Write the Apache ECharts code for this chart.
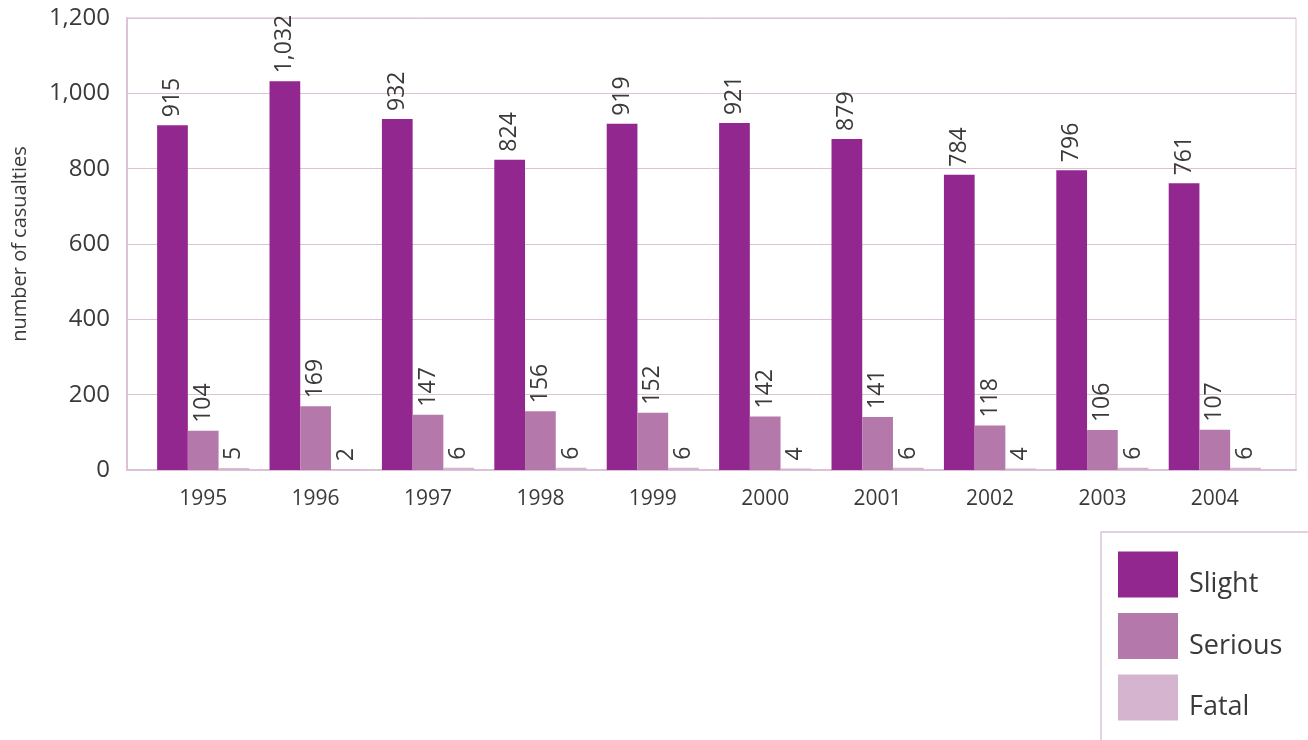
<!DOCTYPE html>
<html>
<head>
<meta charset="utf-8">
<script src="https://cdn.jsdelivr.net/npm/echarts@6/dist/echarts.min.js"></script>
<style>
  html, body { margin: 0; padding: 0; background: #ffffff; }
  #chart { width: 1308px; height: 740px; }
</style>
</head>
<body>
<div id="chart"></div>
<script>
// Road casualties by severity, 1995–2004
const years = ['1995', '1996', '1997', '1998', '1999', '2000', '2001', '2002', '2003', '2004'];
const slight = [915, 1032, 932, 824, 919, 921, 879, 784, 796, 761];
const serious = [104, 169, 147, 156, 152, 142, 141, 118, 106, 107];
const fatal = [5, 2, 6, 6, 6, 4, 6, 4, 6, 6];
const yTicks = [0, 200, 400, 600, 800, 1000, 1200];

const FONT = '"Open Sans", "Noto Sans", sans-serif';
const TEXT = '#3a3a3a';
const LINE = '#dcc2d8';
const Y_MIN = yTicks[0];
const Y_MAX = yTicks[yTicks.length - 1];

const fmt = v => Number(v).toLocaleString('en-US');

const barLabel = {
  show: true,
  position: 'top',
  rotate: 90,
  align: 'left',
  verticalAlign: 'middle',
  distance: 8,
  fontFamily: FONT,
  fontSize: 23,
  color: TEXT,
  formatter: p => fmt(p.value)
};

function barSeries(name, data, color) {
  return {
    name: name,
    type: 'bar',
    xAxisIndex: 1,
    yAxisIndex: 1,
    data: data,
    barGap: 0,
    barCategoryGap: '18%',
    itemStyle: { color: color },
    label: barLabel,
    emphasis: { disabled: true }
  };
}

const chart = echarts.init(document.getElementById('chart'), null, { renderer: 'canvas' });
chart.setOption({
  animation: false,
  backgroundColor: '#ffffff',
  // outer frame with the value scale; inner grid holds the bar categories
  grid: [
    {
      left: 127, right: 12, top: 18, bottom: 270,
      outerBoundsMode: 'none',
      show: true, borderColor: LINE, borderWidth: 1
    },
    {
      left: 147, right: 37, top: 18, bottom: 270,
      outerBoundsMode: 'none'
    }
  ],
  xAxis: [
    {
      gridIndex: 0,
      type: 'category',
      data: years,
      axisLine: { show: true, lineStyle: { color: LINE, width: 2 } },
      axisTick: { show: false },
      axisLabel: { show: false }
    },
    {
      gridIndex: 1,
      type: 'category',
      data: years,
      axisLine: { show: false },
      axisTick: { show: false },
      axisLabel: { fontFamily: FONT, fontSize: 21, color: TEXT, margin: 19 }
    }
  ],
  yAxis: [
    {
      gridIndex: 0,
      type: 'value',
      min: Y_MIN,
      max: Y_MAX,
      interval: 200,
      name: 'number of casualties',
      nameLocation: 'middle',
      nameGap: 97,
      nameTextStyle: { fontFamily: FONT, fontSize: 20, color: TEXT },
      axisLine: { show: true, lineStyle: { color: LINE, width: 2 } },
      axisTick: { show: false },
      splitLine: { lineStyle: { color: LINE, width: 1 } },
      axisLabel: {
        fontFamily: FONT, fontSize: 24, color: TEXT, margin: 17,
        formatter: v => fmt(v)
      }
    },
    {
      gridIndex: 1,
      type: 'value',
      min: Y_MIN,
      max: Y_MAX,
      interval: 200,
      show: false,
      splitLine: { show: false }
    }
  ],
  legend: {
    orient: 'vertical',
    left: 1118,
    top: 551,
    padding: 0,
    itemWidth: 60,
    itemHeight: 46,
    itemGap: 14.5,
    icon: 'rect',
    selectedMode: false,
    formatter: name => '{t|' + name + '}',
    textStyle: {
      rich: {
        t: {
          fontFamily: FONT, fontSize: 27, color: TEXT,
          lineHeight: 22,
          padding: [20, 0, 0, 6]
        }
      }
    }
  },
  graphic: [{
    type: 'rect',
    shape: { x: 1101, y: 532, width: 220, height: 230 },
    style: { fill: 'none', stroke: LINE, lineWidth: 1.5 },
    silent: true
  }],
  series: [
    barSeries('Slight', slight, '#92278f'),
    barSeries('Serious', serious, '#b479aa'),
    barSeries('Fatal', fatal, '#d5b4cf')
  ]
});
</script>
</body>
</html>
